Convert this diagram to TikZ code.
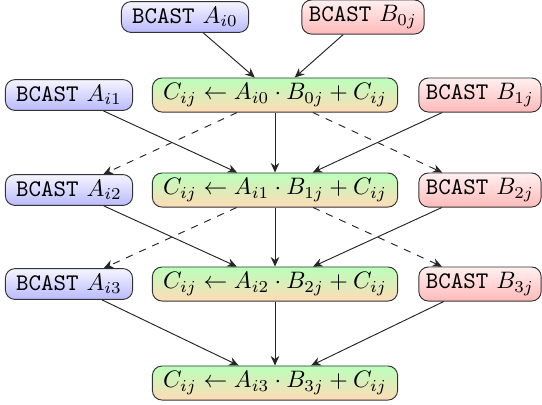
\documentclass[tikz,border=0pt]{standalone}
\usetikzlibrary{arrows.meta,positioning,calc}
\tikzset{
  op/.style={draw=black!80, rounded corners=4pt, inner xsep=4.5pt, inner ysep=2.3pt},
  bca/.style={op, top color=blue!4, bottom color=blue!27},
  bcb/.style={op, inner xsep=3pt, top color=red!6, bottom color=red!27},
  upd/.style={op, top color=green!27, bottom color=orange!28},
  dep/.style={-{Stealth[length=4pt,width=3.6pt]}, black!85},
  ahead/.style={dep, dashed},
}
\begin{document}
\begin{tikzpicture}[x=0.42pt, y=-0.42pt]
  \useasboundingbox (0,0) rectangle (542,404);
  \node[bca] (a0) at (185,17) {\texttt{BCAST} $A_{i0}$};
  \node[bcb] (b0) at (363,17) {\texttt{BCAST} $B_{0j}$};
  \foreach \k/\y in {1/95,2/190,3/284} {
    \node[bca] (a\k) at (69,\y) {\texttt{BCAST} $A_{i\k}$};
    \node[bcb] (b\k) at (480,\y) {\texttt{BCAST} $B_{\k j}$};
  }
  \foreach \k/\y in {0/95,1/190,2/284,3/383}
    \node[upd] (c\k) at (275,\y) {$C_{ij} \leftarrow A_{i\k}\cdot B_{\k j} + C_{ij}$};

  \draw[dep] (a0) -- (c0);
  \draw[dep] (b0) -- (c0);
  \foreach \k/\n in {0/1,1/2,2/3} {
    \draw[dep] (a\n) -- (c\n);
    \draw[dep] (b\n) -- (c\n);
    \draw[dep] (c\k) -- (c\n);
  }
  \foreach \k/\m in {0/2,1/3} {
    \draw[ahead] (c\k) -- (a\m);
    \draw[ahead] (c\k) -- (b\m);
  }
\end{tikzpicture}
\end{document}
